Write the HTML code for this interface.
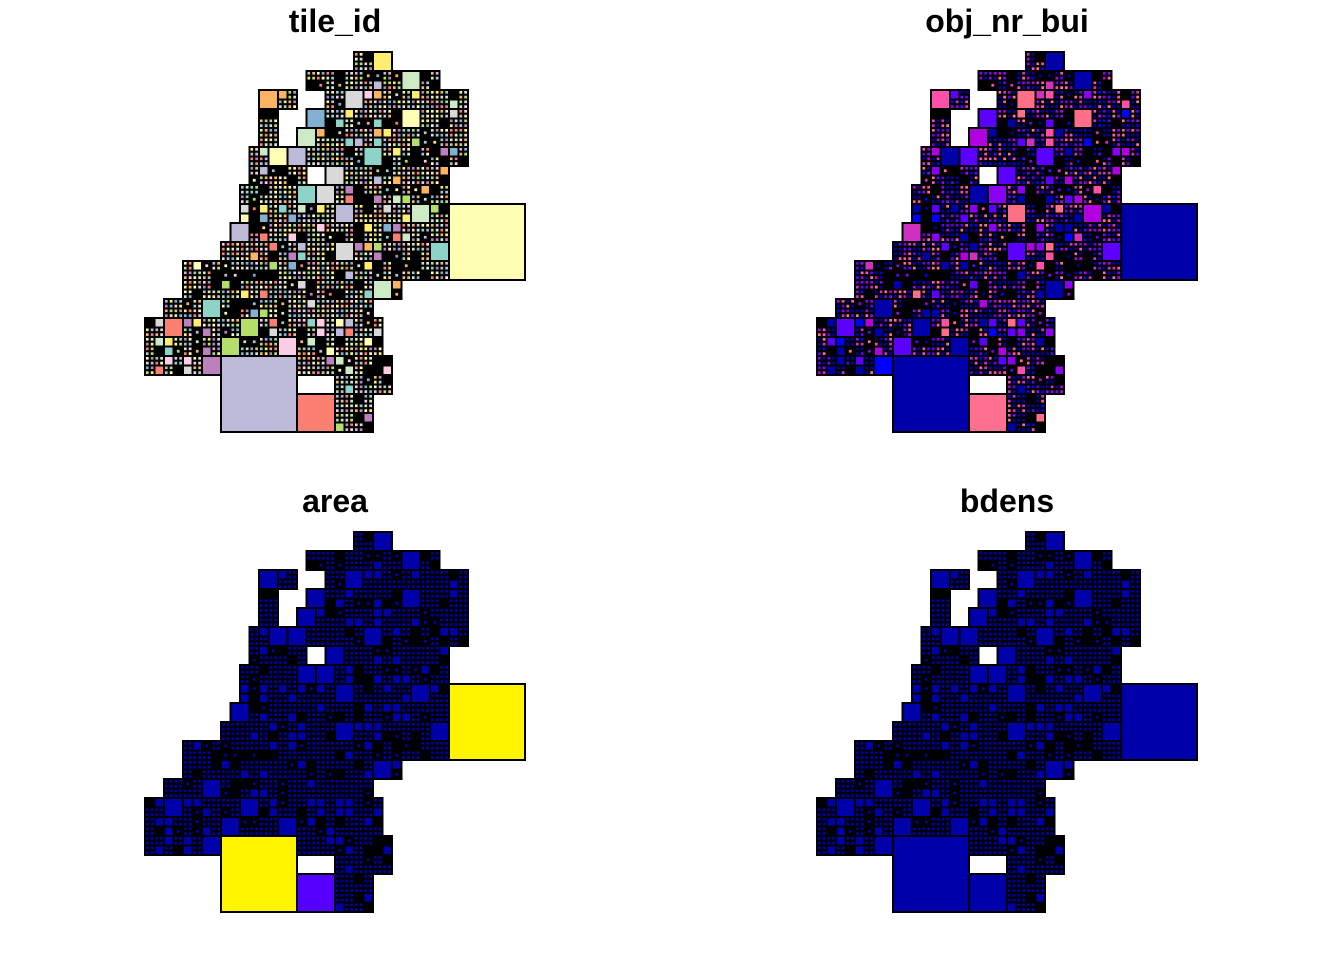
<!DOCTYPE html>
<html><head><meta charset="utf-8"><style>
html,body{margin:0;padding:0;background:#fff;}
svg{display:block;}
text{font-family:"Liberation Sans",Arial,sans-serif;font-weight:bold;font-size:32px;}
</style></head><body>
<svg id="chart" width="1344" height="960" viewBox="0 0 1344 960" xmlns="http://www.w3.org/2000/svg">
<rect width="1344" height="960" fill="#fff"/>
</svg>
<script>
// panel titles and offsets
const panelTitles = ['tile_id','obj_nr_bui','area','bdens'];
const panelDx = [0,672,0,672];
const panelDy = [0,0,480,480];
// textured spans per 19px row, in half-cell units (9.5px) from x=145
const rowSpans = [
 [[22,26]],
 [[17,31]],
 [[12,16],[19,34]],
 [[12,14],[17,34]],
 [[12,14],[16,34]],
 [[11,34]],
 [[11,17],[19,32]],
 [[10,32]],
 [[10,32]],
 [[9,32]],
 [[8,32]],
 [[4,32]],
 [[4,27]],
 [[2,24]],
 [[0,25]],
 [[0,25]],
 [[0,8],[16,26]],
 [[20,26]],
 [[20,24]],
 [[20,24]]
];
// big squares: [col, row, size] in 19px units
const bigSquares = [[4,16,4],[8,18,2],[16,8,4]];
const bigColors = [
 ['#BEBADA','#FB8072','#FFFFB3'],
 ['#0000AA','#FF7090','#0000AA'],
 ['#FFF500','#5500FF','#FFF500'],
 ['#0000AA','#0000AA','#0000AA']
];
const palettes = [
 ['#8DD3C7','#FFFFB3','#BEBADA','#FB8072','#80B1D3','#FDB462','#B3DE69','#FCCDE5','#D9D9D9','#BC80BD','#CCEBC5','#FFED6F'],
 ['#0000AA','#0000AA','#0000AA','#0000AA','#0000FF','#5B00FF','#5B00FF','#8A00F0','#B000E0','#D030C0','#FF4FA8','#FF7088'],
 ['#0000AA'],
 ['#0000AA']
];
const X0 = 145, Y0 = 52, U = 19;
const svg = document.getElementById('chart');
const NS = 'http://www.w3.org/2000/svg';
function mk(tag, attrs){const e=document.createElementNS(NS,tag);for(const k in attrs)e.setAttribute(k,attrs[k]);return e;}
function rng(seed){let s=seed;return function(){s=(s*1103515245+12345)%2147483648;return s/2147483648;};}
function inSpan(row,h){const sp=rowSpans[row];if(!sp)return false;return sp.some(([a,b])=>h>=a&&h<b);}

for (let p=0;p<4;p++){
  const g = mk('g',{transform:`translate(${panelDx[p]},${panelDy[p]})`});
  
  
  svg.appendChild(g);
  const t = mk('text',{x:335,y:32,'text-anchor':'middle',fill:'#000'});
  t.textContent = panelTitles[p];
  
  
  g.appendChild(t);
  const r = rng(12345);
  const cr = rng(777+p);
  const pal = palettes[p];
  const cells = mk('g',{stroke:'#000','stroke-width':2});
  
  
  g.appendChild(cells);
  function cell(x,y,s){
    const c = mk('rect',{x:x,y:y,width:s,height:s,fill:pal[Math.floor(cr()*pal.length)]});
    cells.appendChild(c);
  }
  function half(x,y){
    const s = U/2, v = r();
    if (v < 0.16) cell(x,y,s);
    else if (v < 0.78) { for(let i=0;i<2;i++)for(let j=0;j<2;j++) cell(x+i*s/2,y+j*s/2,s/2); }
    else { cells.appendChild(mk('rect',{x:x,y:y,width:s,height:s,fill:'#000'}));
      if (r()<0.5) cell(x+s/4,y+s/4,s/2); }
  }
  rowSpans.forEach((spans,row)=>{
    spans.forEach(([a,b])=>{
      for(let h=a; h<b; h+=2){
        const full = (h+1<b);
        const edge = !inSpan(row-1,h) || !inSpan(row+1,h) || h===a || h+2>=b;
        if (full && row<17 && r() < (edge?0.25:0.06)) { cell(X0+h*U/2, Y0+row*U, U); continue; }
        for(let k=0;k<2 && h+k<b;k++)
          for(let hr=0; hr<2; hr++) half(X0+(h+k)*U/2, Y0+row*U+hr*U/2);
      }
    });
  });
  const bg = mk('g',{stroke:'#000','stroke-width':2});
  
  
  g.appendChild(bg);
  bigSquares.forEach(([c,rw,sz],i)=>{
    const q = mk('rect',{x:X0+c*U,y:Y0+rw*U,width:sz*U,height:sz*U,fill:bigColors[p][i]});
    
    
    bg.appendChild(q);
  });
}
</script>
</body></html>
